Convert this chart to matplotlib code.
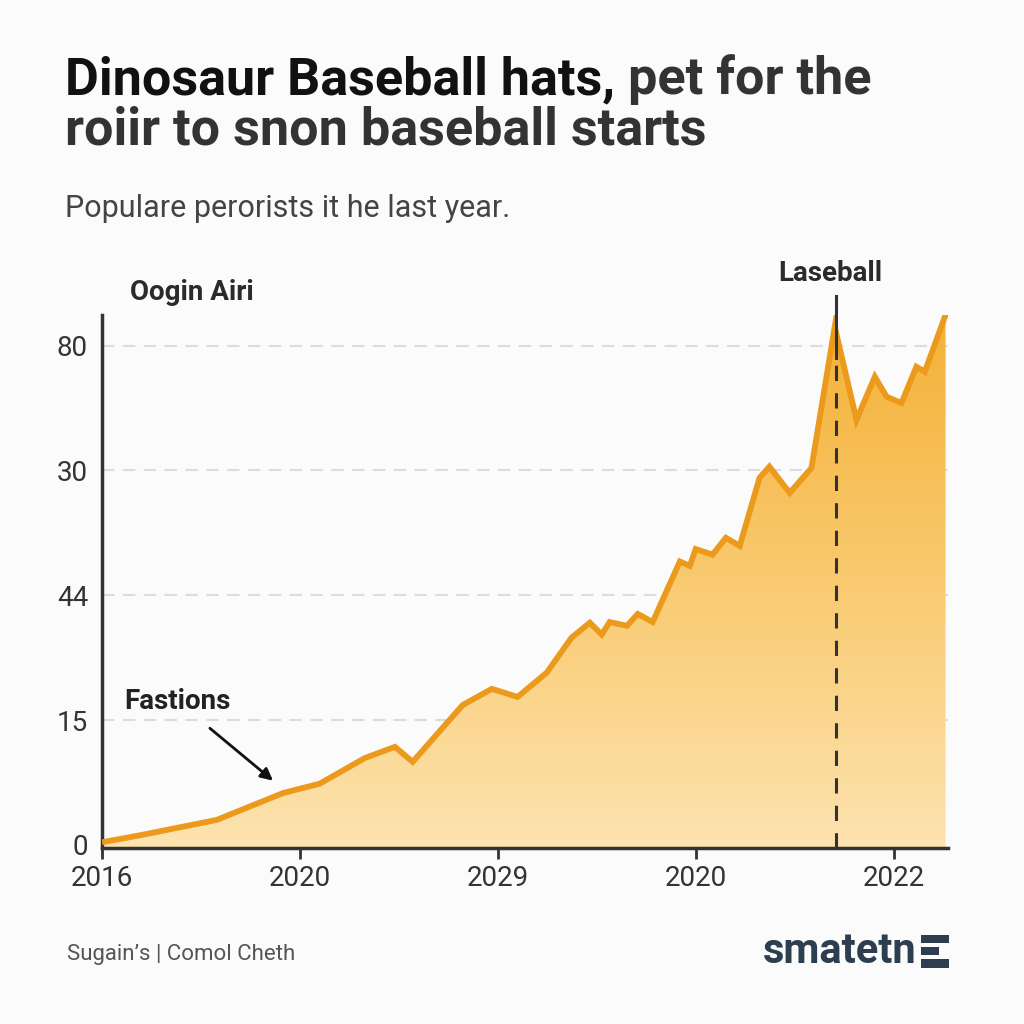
import matplotlib.pyplot as plt
import numpy as np
from matplotlib.patches import Polygon, Rectangle
from matplotlib.colors import LinearSegmentedColormap

plt.rcParams['font.family'] = ['Roboto', 'DejaVu Sans']

# data (x in years, y in axis units)
years = [2016.06, 2016.81, 2018.32, 2019.66, 2020.40, 2021.31, 2021.92, 2022.28,
         2023.29, 2023.88, 2024.40, 2024.99, 2025.49, 2025.86, 2026.10, 2026.26,
         2026.61, 2026.83, 2027.13, 2027.68, 2027.88, 2028.00, 2028.34, 2028.61,
         2028.89, 2029.29, 2029.49, 2029.90, 2030.34, 2030.81, 2031.25, 2031.62,
         2031.86, 2032.16, 2032.46, 2032.63, 2033.05]
values = [0.5, 1.6, 4.0, 8.3, 9.8, 13.9, 15.7, 13.3,
          22.4, 25.0, 23.7, 27.6, 33.2, 35.6, 33.7, 35.7,
          35.1, 37.0, 35.7, 45.4, 44.7, 47.4, 46.5, 49.2,
          47.9, 58.8, 60.6, 56.4, 60.4, 83.0, 68.1, 75.0,
          71.8, 70.8, 76.6, 75.8, 84.9]

ytick_pos = [0, 20, 40, 60, 80]
ytick_labels = ['0', '15', '44', '30', '80']
xtick_pos = [2016, 2020, 2024, 2028, 2032]
xtick_labels = ['2016', '2020', '2029', '2020', '2022']
marker_year = 2030.83

bg = '#fbfbfb'
fig = plt.figure(figsize=(10.24, 10.24), dpi=100, facecolor=bg)
ax = fig.add_axes([0.0996, 0.1719, 0.8262, 0.5205])
ax.set_facecolor(bg)

x = np.array(years)
y = np.array(values)
ax.set_xlim(2016, 2033.1)
ax.set_ylim(-0.5, 84.9)

# gradient fill under the line
grad = np.linspace(0, 1, 256).reshape(-1, 1)
cmap = LinearSegmentedColormap.from_list('g', ['#fde3b0', '#f9ca70', '#f4b136'])
img = ax.imshow(grad, aspect='auto', cmap=cmap, origin='lower',
                extent=[2016, 2033.1, -0.5, 84.9], zorder=1)
verts = np.column_stack([np.r_[x[0], x, x[-1]], np.r_[-0.5, y, -0.5]])
poly = Polygon(verts, closed=True, facecolor='none', edgecolor='none')
ax.add_patch(poly)
img.set_clip_path(poly)

ax.plot(x, y, color='#eb9a1c', lw=4.2, solid_joinstyle='miter', zorder=3)

for yy in ytick_pos[1:]:
    ax.axhline(yy, color='#dcdcdc', lw=1.5, ls=(0, (6, 4)), zorder=0.5)

# marker line
ax.plot([marker_year, marker_year], [-0.5, 80], color='#333333', lw=2.2,
        ls=(0, (5, 4)), zorder=4)
ax.plot([marker_year, marker_year], [78, 88], color='#333333', lw=2.2,
        zorder=4, clip_on=False)

ax.set_xticks(xtick_pos)
ax.set_xticklabels(xtick_labels)
ax.set_yticks(ytick_pos)
ax.set_yticklabels(ytick_labels)
ax.tick_params(axis='x', length=8, width=2, color='#333333', pad=4,
               labelsize=20, labelcolor='#333333')
ax.tick_params(axis='y', length=0, pad=10, labelsize=20, labelcolor='#333333')
for s in ['top', 'right']:
    ax.spines[s].set_visible(False)
for s in ['left', 'bottom']:
    ax.spines[s].set_color('#333333')
    ax.spines[s].set_linewidth(2.5)

# annotations
ax.annotate('Fastions', xy=(2019.5, 10.0), xytext=(2016.45, 23.0),
            fontsize=20, fontweight='bold', color='#222222',
            ha='left', va='center',
            arrowprops=dict(arrowstyle='-|>', color='#111111', lw=2,
                            mutation_scale=18, shrinkA=12, shrinkB=2))

fig.text(0.811, 0.733, 'Laseball', fontsize=20, fontweight='bold',
         color='#2b2b2b', ha='center', va='center')
fig.text(0.187, 0.714, 'Oogin Airi', fontsize=20, fontweight='bold',
         color='#2b2b2b', ha='center', va='center')

# titles
renderer = fig.canvas.get_renderer()
t1 = fig.text(0.063, 0.908, 'Dinosaur Baseball hats, ', fontsize=37.5,
              fontweight='bold', color='#111111', ha='left', va='baseline')
bb = t1.get_window_extent(renderer).transformed(fig.transFigure.inverted())
fig.text(bb.x1, 0.908, 'pet for the', fontsize=37.5, fontweight='bold',
         color='#333333', ha='left', va='baseline')
fig.text(0.063, 0.859, 'roiir to snon baseball starts', fontsize=37.5,
         fontweight='bold', color='#333333', ha='left', va='baseline')
fig.text(0.063, 0.788, 'Populare perorists it he last year.', fontsize=22,
         color='#444444', ha='left', va='baseline')

# footer
fig.text(0.065, 0.068, "Sugain\u2019s | Comol Cheth", fontsize=16,
         color='#555555', ha='left', va='center')
fig.text(0.895, 0.071, 'smatetn', fontsize=30, fontweight='bold',
         color='#2c3e50', ha='right', va='center')
for yy, ww in [(0.083, 0.028), (0.071, 0.018), (0.059, 0.028)]:
    fig.patches.append(Rectangle((0.899, yy - 0.004), ww, 0.008,
                                 transform=fig.transFigure,
                                 facecolor='#2c3e50', edgecolor='none'))

fig.savefig('out.png', dpi=100, facecolor=bg)
